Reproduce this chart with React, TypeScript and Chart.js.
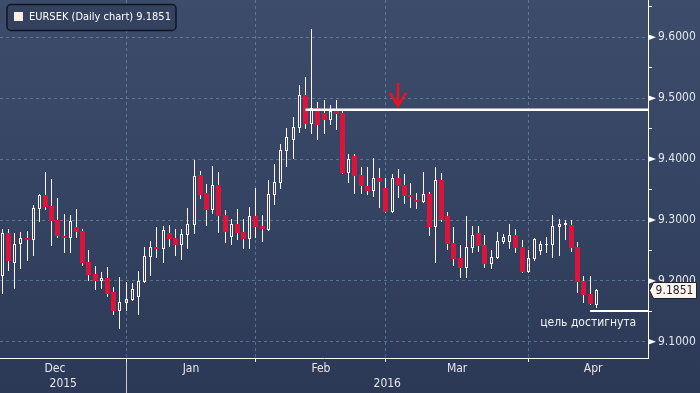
import React, { useEffect, useRef } from 'react';
import { Chart, registerables } from 'chart.js';
Chart.register(...registerables);

// Daily EURSEK candles (weekday index 0 = 4 Dec 2015)
const opens = [9.2080, 9.2787, 9.2299, 9.2601, 9.2709, 9.2676, 9.3186, 9.3406, 9.3230, 9.3000,
  9.2737, 9.2709, 9.2885, 9.2819, 9.2310, 9.2113, 9.1998, 9.2048, 9.1818, 9.1506,
  9.1642, 9.1686, 9.1736, 9.1982, 9.2397, 9.2557, 9.2529, 9.2787, 9.2704, 9.2594,
  9.2759, 9.2923, 9.3739, 9.3443, 9.3164, 9.3575, 9.3082, 9.2726, 9.2934, 9.2803,
  9.2693, 9.3066, 9.2901, 9.2841, 9.3415, 9.3612, 9.4138, 9.4319, 9.4516, 9.5053,
  9.4581, 9.4839, 9.4757, 9.4647, 9.4795, 9.4757, 9.3777, 9.4051, 9.3739, 9.3563,
  9.3481, 9.3690, 9.3530, 9.3136, 9.3690, 9.3575, 9.3410, 9.3333, 9.3296, 9.3432,
  9.2885, 9.3657, 9.3066, 9.2622, 9.2381, 9.2217, 9.2545, 9.2787, 9.2590, 9.2282,
  9.2381, 9.2644, 9.2644, 9.2754, 9.2557, 9.2151, 9.2365, 9.2496, 9.2594, 9.2594,
  9.2890, 9.2923, 9.2918, 9.2557, 9.1998, 9.1785, 9.1609];
const highs = [9.2852, 9.2852, 9.2787, 9.2803, 9.2819, 9.3246, 9.3427, 9.3788, 9.3673, 9.3361,
  9.3099, 9.3082, 9.3181, 9.2852, 9.2507, 9.2245, 9.2146, 9.2228, 9.1900, 9.2064,
  9.1982, 9.1966, 9.2163, 9.2557, 9.2655, 9.2885, 9.2901, 9.2918, 9.2852, 9.2852,
  9.3197, 9.3985, 9.3805, 9.3591, 9.3887, 9.3788, 9.3164, 9.3016, 9.3181, 9.3016,
  9.3213, 9.3525, 9.3082, 9.3657, 9.3920, 9.4248, 9.4511, 9.4691, 9.5217, 9.5348,
  9.6136, 9.4938, 9.4970, 9.4888, 9.4970, 9.4795, 9.4084, 9.4084, 9.3875, 9.3875,
  9.4023, 9.3859, 9.3690, 9.3755, 9.3842, 9.3755, 9.3608, 9.3443, 9.3788, 9.3460,
  9.3870, 9.3772, 9.3131, 9.2885, 9.2590, 9.3066, 9.2901, 9.2901, 9.2754, 9.2507,
  9.2803, 9.2770, 9.2934, 9.2852, 9.2672, 9.2507, 9.2709, 9.2655, 9.2726, 9.3087,
  9.3021, 9.3000, 9.3000, 9.2639, 9.2080, 9.2080, 9.1872];
const lows = [9.1785, 9.2163, 9.1867, 9.2195, 9.2332, 9.2414, 9.2972, 9.3164, 9.2573, 9.2700,
  9.2463, 9.2463, 9.2704, 9.2245, 9.2003, 9.1851, 9.1867, 9.1736, 9.1440, 9.1215,
  9.1506, 9.1686, 9.1445, 9.1971, 9.2085, 9.2381, 9.2299, 9.2562, 9.2414, 9.2343,
  9.2529, 9.2770, 9.3345, 9.2901, 9.3099, 9.2792, 9.2627, 9.2585, 9.2676, 9.2519,
  9.2529, 9.2704, 9.2644, 9.2841, 9.3251, 9.3514, 9.3875, 9.4007, 9.4429, 9.4499,
  9.4417, 9.4319, 9.4417, 9.4565, 9.4483, 9.3777, 9.3608, 9.3432, 9.3432, 9.3415,
  9.3382, 9.3202, 9.3120, 9.3120, 9.3366, 9.3263, 9.3197, 9.3186, 9.3279, 9.2737,
  9.2299, 9.2972, 9.2507, 9.2250, 9.2053, 9.2053, 9.2458, 9.2480, 9.2217, 9.2200,
  9.2360, 9.2611, 9.2529, 9.2463, 9.2146, 9.2138, 9.2332, 9.2430, 9.2463, 9.2381,
  9.2414, 9.2672, 9.2480, 9.1806, 9.1642, 9.1609, 9.1560];
const closes = [9.2787, 9.2327, 9.2601, 9.2700, 9.2676, 9.3192, 9.3406, 9.3213, 9.2984, 9.2737,
  9.2709, 9.2984, 9.2803, 9.2294, 9.2097, 9.1998, 9.2048, 9.1785, 9.1506, 9.1654,
  9.1703, 9.1867, 9.1998, 9.2409, 9.2557, 9.2524, 9.2836, 9.2693, 9.2590, 9.2765,
  9.2934, 9.3722, 9.3410, 9.3164, 9.3575, 9.3066, 9.2803, 9.2934, 9.2792, 9.2688,
  9.3066, 9.2885, 9.2847, 9.3427, 9.3624, 9.4149, 9.4363, 9.4527, 9.5053, 9.4581,
  9.4839, 9.4565, 9.4647, 9.4795, 9.4745, 9.3777, 9.4002, 9.3727, 9.3563, 9.3481,
  9.3690, 9.3629, 9.3136, 9.3690, 9.3563, 9.3399, 9.3378, 9.3300, 9.3427, 9.2885,
  9.3657, 9.3005, 9.2611, 9.2365, 9.2217, 9.2557, 9.2754, 9.2578, 9.2282, 9.2392,
  9.2655, 9.2721, 9.2754, 9.2545, 9.2151, 9.2381, 9.2693, 9.2606, 9.2606, 9.2901,
  9.2934, 9.2951, 9.2545, 9.1987, 9.1773, 9.1626, 9.1851];

const monthNames = ['Dec', 'Jan', 'Feb', 'Mar', 'Apr'];
const monthStarts = [-3, 20, 41, 62, 85, 106]; // first weekday index of each month, then end
const yearNames = ['2015', '2016'];
const yTickValues = [9.1, 9.15, 9.2, 9.25, 9.3, 9.35, 9.4, 9.45, 9.5, 9.55, 9.6, 9.65];
const lastPrice = 9.1851;
const seriesTitle = 'EURSEK (Daily chart)';
const resistanceLevel = 9.4811;
const resistanceFrom = 49;
const targetLevel = 9.1506;
const targetFrom = 95;
const targetText = 'цель достигнута';
const arrowIdx = 64;
const arrowTop = 9.5251;
const arrowTip = 9.4875;

const FONT = '"DejaVu Sans Condensed", "DejaVu Sans", sans-serif';
const X_MIN = -0.37;
const X_MAX = 104.36;
const Y_MIN = 9.0735;
const Y_MAX = 9.6612;

const isMajor = (v: number) => Math.abs(v * 10 - Math.round(v * 10)) < 1e-6;
const monthMids = monthNames.map((_, i) => (monthStarts[i] + monthStarts[i + 1]) / 2);
const monthBounds = monthStarts.slice(1, -1);
const isBound = (v: number) => monthBounds.some((b) => Math.abs(b - v) < 1e-6);

export default function App() {
  const ref = useRef<HTMLCanvasElement | null>(null);

  useEffect(() => {
    document.body.style.margin = '0';
    const canvas = ref.current;
    if (!canvas) return;

    const idx = opens.map((_, i) => i);
    const wickHi = idx.map((i) => ({ x: i, y: [Math.max(opens[i], closes[i]), highs[i]] }));
    const wickLo = idx.map((i) => ({ x: i, y: [lows[i], Math.min(opens[i], closes[i])] }));
    const upBodies = idx.filter((i) => closes[i] >= opens[i]).map((i) => ({ x: i, y: [opens[i], closes[i]] }));
    const downBodies = idx.filter((i) => closes[i] < opens[i]).map((i) => ({ x: i, y: [closes[i], opens[i]] }));

    // snap bar elements (computed by the scales) onto the pixel grid for crisp candles
    const snap = {
      id: 'snap',
      beforeDatasetsDraw(chart: any) {
        chart.data.datasets.forEach((ds: any, di: number) => {
          const meta = chart.getDatasetMeta(di);
          if (meta.type !== 'bar') return;
          meta.data.forEach((el: any) => {
            el.x = Math.floor(el.x) + 0.5;
            el.y = Math.round(el.y);
            el.base = Math.round(el.base);
            if (Math.abs(el.base - el.y) < 1) el.base = el.y + 1;
          });
        });
      },
    };

    const overlay = {
      id: 'overlay',
      beforeDraw(chart: any) {
        const { ctx, width, height } = chart;
        const g = ctx.createLinearGradient(0, 0, 0, height);
        g.addColorStop(0, '#3d4c6a');
        g.addColorStop(0.5, '#354462');
        g.addColorStop(1, '#2b3956');
        ctx.save();
        ctx.fillStyle = g;
        ctx.fillRect(0, 0, width, height);
        ctx.restore();
      },
      afterDraw(chart: any) {
        const { ctx, chartArea: ca, scales } = chart;
        const x = scales.x;
        const y = scales.y;
        ctx.save();
        // major tick triangles on the right axis
        ctx.fillStyle = '#ffffff';
        yTickValues.filter(isMajor).forEach((v) => {
          const py = y.getPixelForValue(v);
          ctx.beginPath();
          ctx.moveTo(ca.right, py - 3);
          ctx.lineTo(ca.right + 8, py);
          ctx.lineTo(ca.right, py + 3);
          ctx.closePath();
          ctx.fill();
        });
        // year row
        const sep = Math.round(x.getPixelForValue(monthStarts[1])) + 0.5;
        ctx.strokeStyle = '#c9ccd3';
        ctx.lineWidth = 1;
        ctx.beginPath();
        ctx.moveTo(sep, ca.bottom + 4);
        ctx.lineTo(sep, chart.height);
        ctx.stroke();
        ctx.font = '12px ' + FONT;
        ctx.fillStyle = '#e4e6ec';
        ctx.textAlign = 'center';
        ctx.textBaseline = 'middle';
        ctx.fillText(yearNames[0], (ca.left + sep) / 2, ca.bottom + 26);
        ctx.fillText(yearNames[1], (sep + ca.right) / 2, ca.bottom + 26);
        // red arrow
        const ax = Math.round(x.getPixelForValue(arrowIdx));
        const at = y.getPixelForValue(arrowTop);
        const ab = y.getPixelForValue(arrowTip);
        ctx.strokeStyle = '#ec1020';
        ctx.lineWidth = 2.5;
        ctx.lineJoin = 'miter';
        ctx.beginPath();
        ctx.moveTo(ax, at);
        ctx.lineTo(ax, ab);
        ctx.moveTo(ax - 8, ab - 13);
        ctx.lineTo(ax, ab);
        ctx.lineTo(ax + 8, ab - 13);
        ctx.stroke();
        // target text
        ctx.fillStyle = '#f2f2f2';
        ctx.font = '12px ' + FONT;
        ctx.fillText(targetText, x.getPixelForValue(94.7), y.getPixelForValue(targetLevel) + 12);
        // legend box
        ctx.beginPath();
        ctx.roundRect(7, 4.5, 169, 26, 4);
        ctx.fillStyle = '#34425f';
        ctx.fill();
        ctx.strokeStyle = '#0f1522';
        ctx.lineWidth = 1.5;
        ctx.stroke();
        ctx.fillStyle = '#fbeee6';
        ctx.fillRect(14, 12, 9, 9);
        ctx.fillStyle = '#ffffff';
        ctx.textAlign = 'left';
        ctx.font = '11px ' + FONT;
        ctx.fillText(seriesTitle + ' ' + lastPrice.toFixed(4), 29, 17.5);
        // last price box
        const py = Math.round(y.getPixelForValue(lastPrice));
        ctx.beginPath();
        ctx.moveTo(ca.right + 1.5, py + 0.5);
        ctx.lineTo(ca.right + 5.5, py - 7.5);
        ctx.lineTo(chart.width - 3.5, py - 7.5);
        ctx.lineTo(chart.width - 3.5, py + 8.5);
        ctx.lineTo(ca.right + 5.5, py + 8.5);
        ctx.closePath();
        ctx.fillStyle = '#fff3ec';
        ctx.fill();
        ctx.strokeStyle = '#1c2233';
        ctx.lineWidth = 1;
        ctx.stroke();
        ctx.fillStyle = '#1a1f2c';
        ctx.font = '12px ' + FONT;
        ctx.textAlign = 'center';
        ctx.fillText(lastPrice.toFixed(4), (ca.right + 5 + chart.width - 4) / 2, py + 1);
        ctx.restore();
      },
    };

    const chart = new Chart(canvas, {
      type: 'bar',
      data: {
        datasets: [
          {
            type: 'line',
            data: [{ x: resistanceFrom, y: resistanceLevel }, { x: X_MAX, y: resistanceLevel }],
            borderColor: '#ffffff',
            borderWidth: 2.5,
            pointRadius: 0,
          } as any,
          {
            type: 'line',
            data: [{ x: targetFrom, y: targetLevel }, { x: X_MAX, y: targetLevel }],
            borderColor: '#ffffff',
            borderWidth: 2,
            pointRadius: 0,
          } as any,
          {
            data: downBodies as any,
            backgroundColor: '#dc143c',
            borderWidth: 0,
            barThickness: 5,
            inflateAmount: 0,
            grouped: false,
          },
          {
            data: upBodies as any,
            backgroundColor: 'rgba(0,0,0,0)',
            borderColor: '#fbf3ee',
            borderWidth: 1,
            borderSkipped: false,
            barThickness: 3,
            inflateAmount: 0,
            grouped: false,
          },
          {
            data: wickHi as any,
            backgroundColor: '#fbf3ee',
            borderWidth: 0,
            barThickness: 1,
            inflateAmount: 0,
            grouped: false,
          },
          {
            data: wickLo as any,
            backgroundColor: '#fbf3ee',
            borderWidth: 0,
            barThickness: 1,
            inflateAmount: 0,
            grouped: false,
          },
        ],
      },
      options: {
        animation: false,
        responsive: false,
        devicePixelRatio: 1,
        events: [],
        layout: { padding: 0 },
        plugins: { legend: { display: false }, tooltip: { enabled: false } },
        scales: {
          x: {
            type: 'linear',
            min: X_MIN,
            max: X_MAX,
            offset: false,
            afterBuildTicks: (s: any) => {
              s.ticks = [...monthMids, ...monthBounds]
                .filter((v) => v > X_MIN && v < X_MAX)
                .sort((a, b) => a - b)
                .map((v) => ({ value: v }));
            },
            afterFit: (s: any) => {
              s.height = 35;
              s.paddingLeft = 0;
              s.paddingRight = 0;
            },
            ticks: {
              autoSkip: false,
              maxRotation: 0,
              padding: 0,
              color: '#e4e6ec',
              font: { family: FONT, size: 12 },
              callback: (v: any) => {
                const k = monthMids.findIndex((m) => Math.abs(m - v) < 1e-6);
                return k >= 0 ? monthNames[k] : '';
              },
            },
            grid: {
              offset: false,
              tickLength: 4,
              color: (c: any) => (c.tick && isBound(c.tick.value) ? 'rgba(105,145,170,0.65)' : 'rgba(0,0,0,0)'),
              tickColor: (c: any) => (c.tick && isBound(c.tick.value) ? '#ffffff' : 'rgba(0,0,0,0)'),
            },
            border: { color: '#ffffff', width: 1, dash: [3, 3] },
          },
          y: {
            type: 'linear',
            position: 'right',
            min: Y_MIN,
            max: Y_MAX,
            afterBuildTicks: (s: any) => {
              s.ticks = yTickValues.map((v) => ({ value: v }));
            },
            afterFit: (s: any) => {
              s.width = 52;
              s.paddingTop = 0;
              s.paddingBottom = 0;
            },
            ticks: {
              autoSkip: false,
              padding: 6,
              color: '#e4e6ec',
              font: { family: FONT, size: 12 },
              callback: (v: any) => (isMajor(v) ? Number(v).toFixed(4) : ''),
            },
            grid: {
              tickLength: 4,
              color: (c: any) => (c.tick && isMajor(c.tick.value) ? 'rgba(105,145,170,0.65)' : 'rgba(0,0,0,0)'),
              tickColor: (c: any) => (c.tick && !isMajor(c.tick.value) ? '#ffffff' : 'rgba(0,0,0,0)'),
            },
            border: { color: '#ffffff', width: 1, dash: [3, 3] },
          },
        },
      } as any,
      plugins: [overlay, snap],
    });

    return () => chart.destroy();
  }, []);

  return (
    <div style={{ width: 700, height: 393 }}>
      <canvas ref={ref} width={700} height={393} style={{ display: 'block' }} />
    </div>
  );
}
